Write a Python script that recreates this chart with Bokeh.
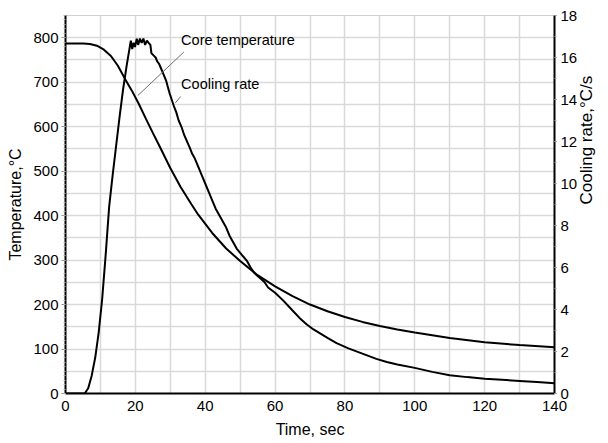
import math
from bokeh.plotting import figure
from bokeh.models import Range1d, LinearAxis, SingleIntervalTicker, Label
from bokeh.embed import file_html
from bokeh.resources import INLINE

# Core temperature, °C (left axis)
time_core = [0, 5, 7, 9, 11, 13, 15, 17, 19, 21, 23, 25, 27, 30, 33, 36, 38, 42, 46,
             50, 55, 60, 65, 70, 75, 80, 85, 90, 95, 100, 110, 120, 130, 140]
temp_core = [787, 787, 786, 782, 773, 759, 737, 708, 681, 651, 618, 586, 555, 507, 464,
             426, 402, 361, 326, 298, 266, 241, 219, 200, 185, 172, 161, 152, 144, 137,
             125, 115, 109, 104]

# Cooling rate, °C/s (right axis)
time_rate = [0, 5.5, 6.5, 7.5, 8.5, 9.5, 10.5, 11.5, 12.5, 13.5, 14.5, 15.5, 16.5, 17.5,
             18.3, 18.7, 19.1, 19.5, 19.9, 20.4, 20.8, 21.3, 21.8, 22.3, 22.8, 23.3, 23.8,
             24.3, 24.6, 25.2, 25.8, 26.3, 26.8, 27.3, 27.8, 28.3, 28.8, 29.3, 29.8, 30.4,
             31, 31.7, 32.4, 33.2, 34, 34.8, 35.6, 36.3, 37, 38, 39, 40, 41, 42, 43, 44, 45,
             46, 47, 48, 49, 50, 51, 52, 53, 54, 55, 56, 57, 58, 60, 62.5, 65, 67, 69, 71,
             73, 75, 77.6, 81, 85, 89, 92, 95, 100, 105, 110, 115, 120, 125, 130, 135, 140]
rate = [0, 0, 0.25, 0.85, 1.7, 2.9, 4.5, 6.6, 8.9, 10.4, 11.8, 13.2, 14.5, 15.6,
        16.4, 16.8, 16.4, 16.7, 16.5, 16.9, 16.6, 16.9, 16.7, 16.9, 16.6, 16.8, 16.7,
        16.6, 16.2, 16.1, 16.0, 15.8, 15.7, 15.5, 15.3, 15.1, 14.9, 14.6, 14.3, 14.0,
        13.7, 13.4, 13.0, 12.7, 12.3, 12.0, 11.7, 11.4, 11.2, 10.8, 10.4, 10.0, 9.6, 9.2,
        8.8, 8.5, 8.2, 7.9, 7.5, 7.2, 6.9, 6.7, 6.5, 6.3, 6.0, 5.75, 5.6, 5.45, 5.3, 5.05,
        4.8, 4.4, 3.95, 3.6, 3.3, 3.05, 2.85, 2.65, 2.4, 2.15, 1.9, 1.65, 1.5, 1.38, 1.22,
        1.03, 0.87, 0.78, 0.70, 0.65, 0.6, 0.55, 0.49]

# Annotations
note_text = ["Core temperature", "Cooling rate"]
note_x = [33.1, 33.1]
note_y = [794, 697]
leader_x0 = [33.9, 33.0]
leader_y0 = [768, 668]
leader_x1 = [20.7, 31.4]
leader_y1 = [670, 653]

FONT = "Liberation Sans"

p = figure(width=608, height=443, x_range=Range1d(0, 140), y_range=Range1d(0, 850),
           output_backend="svg", toolbar_location=None,
           min_border_left=65, min_border_right=48, min_border_top=15, min_border_bottom=50,
           background_fill_color="white", border_fill_color="white",
           outline_line_color="#d0d0d0")
p.extra_y_ranges = {"rate": Range1d(0, 18)}

xaxis = p.below[0]
laxis = p.left[0]

xaxis.ticker = SingleIntervalTicker(interval=20, num_minor_ticks=0)
laxis.ticker = SingleIntervalTicker(interval=100, num_minor_ticks=10)
p.xgrid.ticker = SingleIntervalTicker(interval=10)
p.ygrid.ticker = SingleIntervalTicker(interval=50)
for g in (p.xgrid, p.ygrid):
    g.grid_line_color = "#d9d9d9"
    g.grid_line_width = 1.5

raxis = LinearAxis(y_range_name="rate", ticker=SingleIntervalTicker(interval=2, num_minor_ticks=2),
                   axis_label="Cooling rate,°C/s" + "\u00a0" * 10)
p.add_layout(raxis, "right")

xaxis.axis_label = "Time, sec"
laxis.axis_label = "Temperature,°C"

for ax in (xaxis, laxis, raxis):
    ax.axis_line_color = "black"
    ax.axis_line_width = 2
    ax.major_label_text_font = FONT
    ax.major_label_text_font_size = "15px"
    ax.major_label_text_color = "black"
    ax.axis_label_text_font = FONT
    ax.axis_label_text_font_size = "16px"
    ax.axis_label_text_font_style = "normal"
    ax.axis_label_text_color = "black"

xaxis.major_tick_line_color = None
xaxis.minor_tick_line_color = None
xaxis.major_tick_out = 0
xaxis.major_tick_in = 0
xaxis.minor_tick_out = 0
xaxis.major_label_standoff = 7
xaxis.axis_label_standoff = 7

laxis.major_tick_line_color = "#909090"
laxis.major_tick_out = 4
laxis.major_tick_in = 0
laxis.minor_tick_line_color = "#b0b0b0"
laxis.minor_tick_out = 2
laxis.minor_tick_in = 0
laxis.major_label_standoff = 3
laxis.axis_label_standoff = 6

raxis.major_tick_line_color = "#707070"
raxis.major_tick_out = 2
raxis.major_tick_in = 0
raxis.minor_tick_line_color = "#a0a0a0"
raxis.minor_tick_out = 2
raxis.minor_tick_in = 0
raxis.major_label_standoff = 4
raxis.axis_label_text_font_size = "17px"
raxis.axis_label_standoff = 6
raxis.axis_label_orientation = math.pi / 2

p.line(time_core, temp_core, line_color="black", line_width=2)
p.line(time_rate, rate, y_range_name="rate", line_color="black", line_width=2)

p.segment(x0=leader_x0, y0=leader_y0, x1=leader_x1, y1=leader_y1,
          line_color="#707070", line_width=1)
for t, x, y in zip(note_text, note_x, note_y):
    p.add_layout(Label(x=x, y=y, text=t, text_font=FONT, text_font_size="14.5px",
                       text_color="black", text_baseline="middle", text_align="left"))

open("out.html", "w").write(file_html(p, INLINE))
